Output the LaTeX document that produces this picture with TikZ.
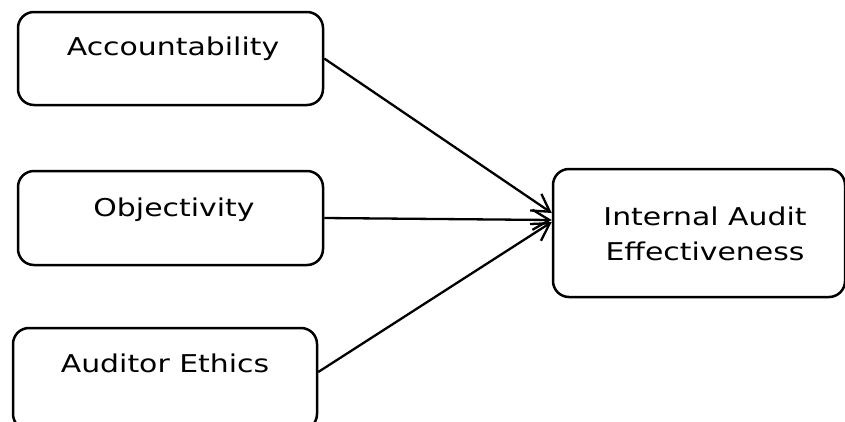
\documentclass[tikz,border=0pt]{standalone}
\usepackage{fontspec}
\newfontfamily\diagfont[FakeStretch=1.22]{DejaVu Sans}
\usetikzlibrary{arrows.meta}
\begin{document}
\begin{tikzpicture}[x=1pt,y=-1pt,
  box/.style={draw=black, line width=2.5pt, rounded corners=16pt, inner sep=0pt},
  lbl/.style={font=\diagfont\fontsize{24.5}{35}\selectfont, inner sep=0pt, anchor=base, align=center},
  conn/.style={line width=2.3pt, -{Straight Barb[length=17pt,width=20pt,line width=2.3pt]}}]
\useasboundingbox (0,0) rectangle (845,421);
\clip (0,0) rectangle (845,421);
\node[box, minimum width=305pt, minimum height=93pt] (acc) at (170.5,58.5) {};
\node[box, minimum width=305pt, minimum height=94pt] (obj) at (170.5,218) {};
\node[box, minimum width=304pt, minimum height=102pt] (eth) at (165,379) {};
\node[box, minimum width=292pt, minimum height=128pt] (iae) at (699,233) {};
\node[lbl] (accT) at (173,55) {Accountability};
\node[lbl] (objT) at (174,216) {Objectivity};
\node[lbl] (ethT) at (165,372) {Auditor Ethics};
\node[lbl] (iaeT) at (705,225) {Internal Audit};
\node[lbl] (iaeT2) at (705,260) {Effectiveness};
\coordinate (ethout) at ([yshift=7pt]eth.east);
\coordinate (t1) at ([yshift=20pt]iae.west);
\coordinate (t2) at ([yshift=13pt]iae.west);
\coordinate (t3) at ([yshift=11pt]iae.west);
\draw[conn] (acc.east) -- (t1);
\draw[conn] (obj.east) -- (t2);
\draw[conn] (ethout) -- (t3);
\end{tikzpicture}
\end{document}
